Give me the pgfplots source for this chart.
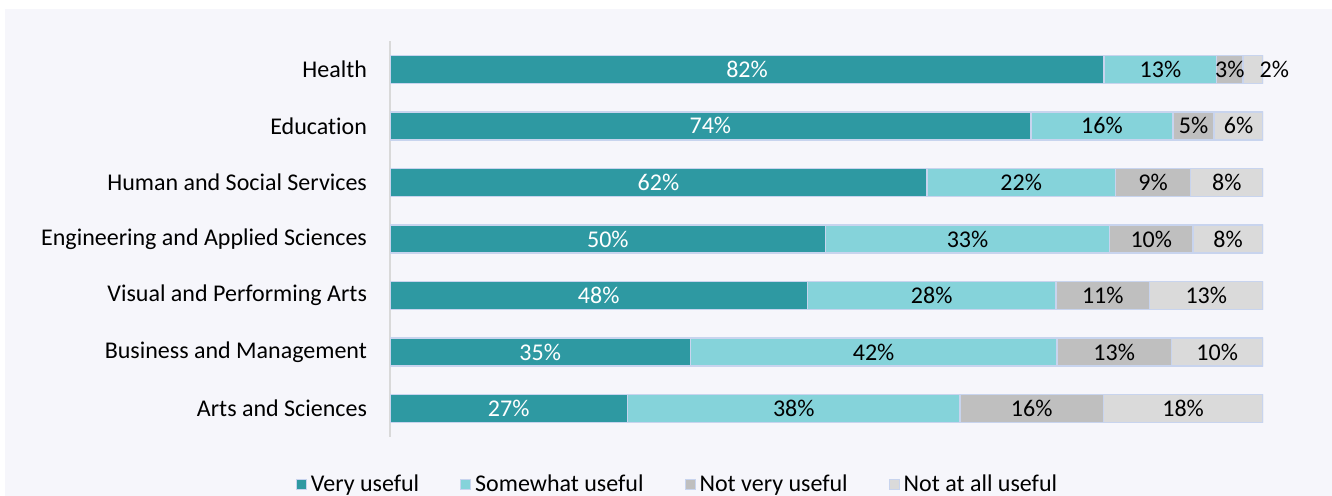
\documentclass[border=0pt]{standalone}
\usepackage{fontspec}
\setmainfont{Carlito}[Ligatures=NoCommon]
\usepackage{pgfplots}
\usepackage{pgfplotstable}
\pgfplotsset{compat=1.18}
\definecolor{vu}{RGB}{46,153,162}
\definecolor{su}{RGB}{133,211,218}
\definecolor{nvu}{RGB}{191,191,191}
\definecolor{nau}{RGB}{218,218,218}
\definecolor{bord}{RGB}{200,212,238}
\definecolor{bg}{RGB}{246,246,251}
\definecolor{axl}{RGB}{217,217,217}
\pgfplotstableread{
y v1 v2 v3 v4 p1 p2 p3 p4
6 81.8 12.9 3.0 2.3 82 13 3 2
5 73.4 16.3 4.7 5.6 74 16 5 6
4 61.5 21.6 8.6 8.3 62 22 9 8
3 49.9 32.5 9.6 8.0 50 33 10 8
2 47.8 28.5 10.7 13.0 48 28 11 13
1 34.4 42.0 13.1 10.5 35 42 13 10
0 27.2 38.1 16.4 18.3 27 38 16 18
}\datatable
\begin{document}
\begin{tikzpicture}[font=\fontsize{12}{14}\selectfont]
\path[use as bounding box] (0,0) rectangle (666pt,248pt);
\fill[bg] (2.5pt,0) rectangle (666pt,243.5pt);
\pgfplotsset{
  common/.style={
    scale only axis, width=436.5pt, height=198pt,
    xmin=0, xmax=100, ymin=-0.5, ymax=6.5,
    at={(195pt,29.5pt)}, anchor=south west,
  }
}
\begin{axis}[common,
  xbar stacked, bar width=14pt,
  axis x line=none,
  axis y line*=left,
  y axis line style={draw=axl, line width=1pt, -},
  ytick={0,...,6},
  yticklabels={Arts and Sciences, Business and Management, Visual and Performing Arts, Engineering and Applied Sciences, Human and Social Services, Educat\kern0pt ion, Health},
  major tick length=0pt,
  yticklabel style={xshift=-8pt, font=\fontsize{12}{14}\selectfont, text=black},
  every axis plot/.append style={draw=bord, line width=0.75pt},
  legend columns=4,
  legend style={draw=none, fill=none, at={(axis description cs:0.3305,-0.12)}, anchor=center,
    font=\fontsize{12}{14}\selectfont, /tikz/every even column/.append style={column sep=18.5pt}},
  legend image code/.code={\draw[#1, line width=0.5pt] (0pt,-2.5pt) rectangle (5pt,2.5pt);},
]
\addplot[fill=vu] table[x=v1,y=y]{\datatable};
\addlegendentry{Very useful}
\addplot[fill=su] table[x=v2,y=y]{\datatable};
\addlegendentry{Somewhat useful}
\addplot[fill=nvu] table[x=v3,y=y]{\datatable};
\addlegendentry{Not very useful}
\addplot[fill=nau] table[x=v4,y=y]{\datatable};
\addlegendentry{Not at all useful}
\end{axis}
\begin{axis}[common, hide axis, clip=false,
  nodes near coords={\pgfmathprintnumber{\pgfplotspointmeta}\%},
  every node near coord/.append style={anchor=center, font=\fontsize{12}{14}\selectfont, inner sep=0pt},
  point meta=explicit,
  /pgf/number format/assume math mode=true,
]
\addplot[only marks, mark=*, mark size=0pt, mark options={draw=none,fill=none},
  every node near coord/.append style={text=white}]
  table[x expr=\thisrow{v1}/2, y=y, meta=p1]{\datatable};
\addplot[only marks, mark=*, mark size=0pt, mark options={draw=none,fill=none}]
  table[x expr=\thisrow{v1}+\thisrow{v2}/2, y=y, meta=p2]{\datatable};
\addplot[only marks, mark=*, mark size=0pt, mark options={draw=none,fill=none}]
  table[x expr=\thisrow{v1}+\thisrow{v2}+\thisrow{v3}/2, y=y, meta=p3]{\datatable};
\addplot[only marks, mark=*, mark size=0pt, mark options={draw=none,fill=none}]
  table[x expr={\thisrow{y}==6 ? 101.3 : \thisrow{v1}+\thisrow{v2}+\thisrow{v3}+\thisrow{v4}/2}, y=y, meta=p4]{\datatable};
\end{axis}
\end{tikzpicture}
\end{document}
